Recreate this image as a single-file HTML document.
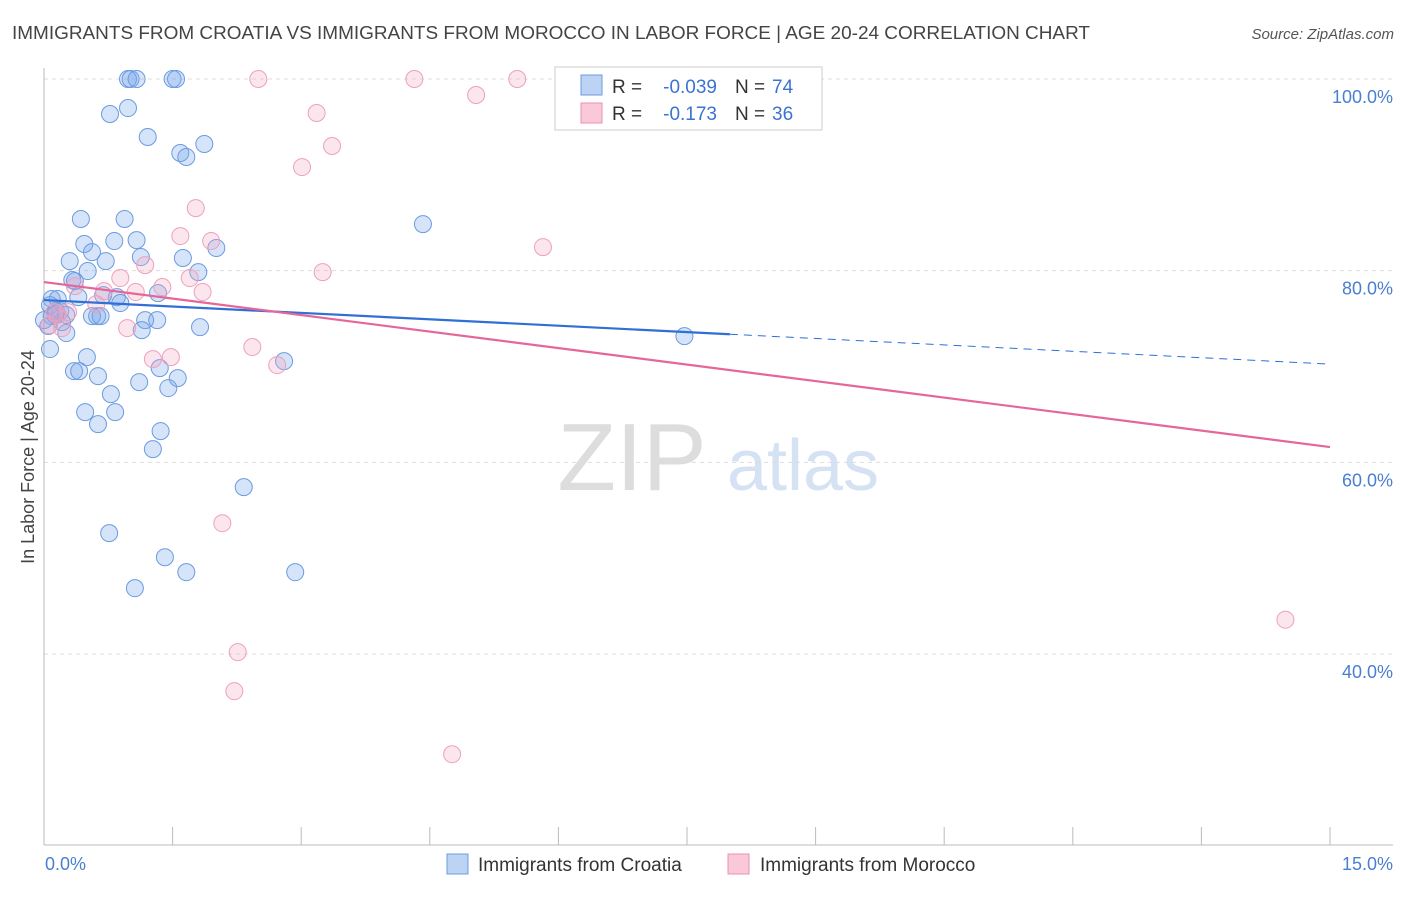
<!DOCTYPE html>
<html><head><meta charset="utf-8"><style>
body{margin:0;background:#fff;font-family:"Liberation Sans",sans-serif;}
svg text{font-family:"Liberation Sans",sans-serif;}
</style></head><body>
<svg id="chart" width="1406" height="892" xmlns="http://www.w3.org/2000/svg">
<text x="12" y="39" font-size="18.6" fill="#444" textLength="1078" lengthAdjust="spacingAndGlyphs">IMMIGRANTS FROM CROATIA VS IMMIGRANTS FROM MOROCCO IN LABOR FORCE | AGE 20-24 CORRELATION CHART</text>
<text x="1394" y="39" font-size="15" fill="#555" text-anchor="end" font-style="italic">Source: ZipAtlas.com</text>
<g>
<text x="632" y="490" font-size="96" fill="#ddd" text-anchor="middle" font-family="Liberation Serif, serif">ZIP</text>
<text x="803" y="490" font-size="72" fill="#d5e2f3" text-anchor="middle">atlas</text>
</g>
<g id="grid"></g>
<g id="axes"></g>
<g id="marks"></g>
<text transform="translate(34,457) rotate(-90)" font-size="18" fill="#444" text-anchor="middle">In Labor Force | Age 20-24</text>
<text x="45" y="870" font-size="18" fill="#4a7fd0">0.0%</text>
<text x="1393" y="870" font-size="18" fill="#4a7fd0" text-anchor="end">15.0%</text>
<g>
<rect x="555" y="67" width="267" height="63" fill="#fff" stroke="#ccc"/>
<rect x="581" y="75" width="21" height="20" fill="#bcd3f4" stroke="#6b9be0"/>
<rect x="581" y="103" width="21" height="20" fill="#f9c9d8" stroke="#ec8fae"/>
<text x="612" y="93" font-size="19" fill="#333">R =</text>
<text x="717" y="93" font-size="19" fill="#3a73d0" text-anchor="end">-0.039</text>
<text x="735" y="93" font-size="19" fill="#333">N =</text>
<text x="772" y="93" font-size="19" fill="#3a73d0">74</text>
<text x="612" y="120" font-size="19" fill="#333">R =</text>
<text x="717" y="120" font-size="19" fill="#3a73d0" text-anchor="end">-0.173</text>
<text x="735" y="120" font-size="19" fill="#333">N =</text>
<text x="772" y="120" font-size="19" fill="#3a73d0">36</text>
</g>
<g>
<rect x="447" y="854" width="21" height="20" fill="#bcd3f4" stroke="#6b9be0"/>
<text x="478" y="871" font-size="19" fill="#333">Immigrants from Croatia</text>
<rect x="728" y="854" width="21" height="20" fill="#f9c9d8" stroke="#ec8fae"/>
<text x="760" y="871" font-size="19" fill="#333">Immigrants from Morocco</text>
</g>
</svg>
<script>
const yTicks=[100,80,60,40];
const yTickLabels=["100.0%","80.0%","60.0%","40.0%"];
const xTicks=[0,1.5,3,4.5,6,7.5,9,10.5,12,13.5,15];
const croatiaX=[0.98,1.01,1.08,1.50,1.54,0.98,0.77,1.21,1.59,1.66,1.87,0.43,0.94,4.42,0.47,0.82,1.08,0.56,0.72,0.30,1.13,1.62,2.01,0.51,1.80,0.33,0.36,0.40,0.09,0.16,0.07,0.85,1.33,0.69,0.89,0.14,0.19,0.56,0.62,0.66,1.18,1.32,0.09,0.26,1.14,1.82,0.26,0.07,0.50,2.80,0.35,0.41,1.35,0.63,1.56,1.11,1.45,0.78,0.48,0.83,0.63,1.36,1.27,2.33,0.76,1.41,1.66,2.93,1.06,7.47,0.05,0.21,0.13,0.00];
const croatiaY=[100,100,100,100,100,96.97,96.35,93.95,92.28,91.86,93.22,85.39,85.39,84.86,82.78,83.09,83.19,81.94,81.00,81.00,81.42,81.32,82.36,79.96,79.85,79.02,78.91,77.24,77.04,77.04,76.41,77.24,77.66,77.45,76.62,75.78,75.78,75.26,75.26,75.26,74.84,74.84,75.26,75.37,73.80,74.11,73.49,71.82,70.98,70.56,69.52,69.52,69.83,69.00,68.79,68.37,67.75,67.12,65.24,65.24,63.99,63.26,61.38,57.41,52.61,50.10,48.54,48.54,46.87,73.17,74.22,74.63,75.37,74.84];
const moroccoX=[2.50,4.32,5.52,5.04,3.18,3.36,3.01,1.77,1.59,1.95,5.82,1.18,3.25,0.89,1.70,1.38,1.85,0.36,0.70,1.07,0.61,0.28,0.16,0.21,0.97,1.27,1.48,2.43,2.72,2.08,2.26,2.22,4.76,14.48,0.06,0.12];
const moroccoY=[100,100,100,98.33,96.45,93.01,90.81,86.53,83.61,83.09,82.46,80.58,79.85,79.23,79.23,78.29,77.77,78.39,77.87,77.77,76.51,75.68,75.37,74.01,74.01,70.77,70.98,72.03,70.15,53.65,40.19,36.12,29.54,43.58,74.32,75.68];
const croatiaTrend=[76.93,70.25];
const croatiaSolidEnd=8.0;
const moroccoTrend=[78.81,61.59];

const NS="http://www.w3.org/2000/svg";
const X=v=>44+v*(1330-44)/15;
const Y=v=>79+(100-v)*(654-79)/60;
function mk(tag,attrs,parent){const e=document.createElementNS(NS,tag);for(const k in attrs)e.setAttribute(k,attrs[k]);parent.appendChild(e);return e;}
const grid=document.getElementById('grid'),axes=document.getElementById('axes'),marks=document.getElementById('marks');
yTicks.forEach((t,i)=>{
 const l=mk('line',{x1:44,x2:1393,y1:Y(t),y2:Y(t),stroke:'#ddd','stroke-dasharray':'4,4'},grid);
 
 
 const tx=mk('text',{x:1393,y:Y(t)+24,'font-size':18,fill:'#4a7fd0','text-anchor':'end'},grid);
 tx.textContent=yTickLabels[i];
 
 
});
const ax=mk('line',{x1:44,x2:1393,y1:845,y2:845,stroke:'#bbb'},axes);


const ay=mk('line',{x1:44,x2:44,y1:68,y2:845,stroke:'#bbb'},axes);


xTicks.forEach(t=>{
 const l=mk('line',{x1:X(t),x2:X(t),y1:827,y2:845,stroke:'#bbb'},axes);
 
 
});
croatiaX.forEach((x,i)=>{
 const c=mk('circle',{cx:X(x),cy:Y(croatiaY[i]),r:8.5,fill:'rgba(120,165,235,0.3)',stroke:'#6c9be0','stroke-width':1},marks);
 
 
});
moroccoX.forEach((x,i)=>{
 const c=mk('circle',{cx:X(x),cy:Y(moroccoY[i]),r:8.5,fill:'rgba(245,165,195,0.28)',stroke:'#eea0ba','stroke-width':1},marks);
 
 
});
const by=x=>croatiaTrend[0]+(croatiaTrend[1]-croatiaTrend[0])*x/15;
const t1=mk('line',{x1:X(0),y1:Y(by(0)),x2:X(croatiaSolidEnd),y2:Y(by(croatiaSolidEnd)),stroke:'#2f6fd6','stroke-width':2.2},marks);


const t2=mk('line',{x1:X(croatiaSolidEnd),y1:Y(by(croatiaSolidEnd)),x2:X(15),y2:Y(by(15)),stroke:'#2f6fd6','stroke-width':1,'stroke-dasharray':'8,6'},marks);


const t3=mk('line',{x1:X(0),y1:Y(moroccoTrend[0]),x2:X(15),y2:Y(moroccoTrend[1]),stroke:'#e5679a','stroke-width':2.2},marks);


</script>
</body></html>
